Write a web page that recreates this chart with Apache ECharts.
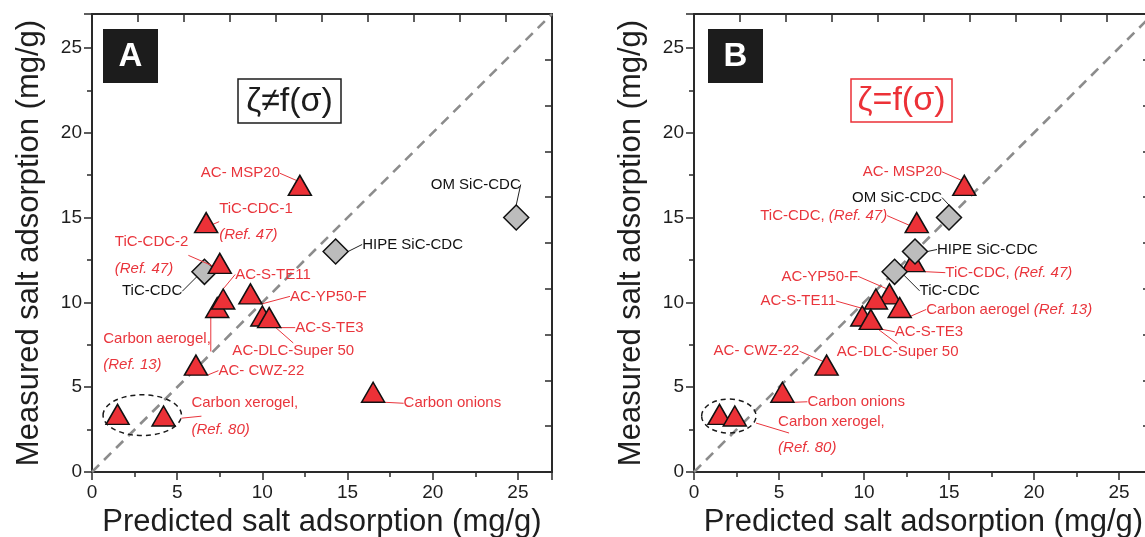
<!DOCTYPE html>
<html><head><meta charset="utf-8">
<script src="https://cdn.jsdelivr.net/npm/echarts@6/dist/echarts.min.js"></script>
<style>html,body{margin:0;padding:0;background:#fff;}#c{width:1145px;height:537px;}</style>
</head><body><div id="c"></div>
<script>
// ---------------- data ----------------
const axisMin = 0, axisMax = 27;
const xTickLabels = ['0', '5', '10', '15', '20', '25'];
const yTickLabels = ['0', '5', '10', '15', '20', '25'];
const parityLine = [[0, 0], [27, 27]];

// Panel A : zeta != f(sigma)
const aTriNames = ['AC- MSP20', 'TiC-CDC-1', 'TiC-CDC-2', 'Carbon aerogel', 'AC-S-TE11', 'AC-YP50-F',
  'AC-DLC-Super 50', 'AC-S-TE3', 'AC- CWZ-22', 'Carbon xerogel 1', 'Carbon xerogel 2', 'Carbon onions'];
const aTriX = [12.2, 6.7, 7.5, 7.35, 7.7, 9.3, 10.0, 10.4, 6.1, 1.5, 4.2, 16.5];
const aTriY = [16.9, 14.7, 12.3, 9.7, 10.2, 10.5, 9.2, 9.1, 6.3, 3.4, 3.3, 4.7];
const aDiaNames = ['TiC-CDC', 'HIPE SiC-CDC', 'OM SiC-CDC'];
const aDiaX = [6.6, 14.3, 24.9];
const aDiaY = [11.8, 13.0, 15.0];

// Panel B : zeta = f(sigma)
const bTriNames = ['AC- MSP20', 'TiC-CDC (Ref. 47) a', 'TiC-CDC (Ref. 47) b', 'AC-YP50-F', 'AC-S-TE11',
  'Carbon aerogel', 'AC-DLC-Super 50', 'AC-S-TE3', 'AC- CWZ-22', 'Carbon onions', 'Carbon xerogel 1', 'Carbon xerogel 2'];
const bTriX = [15.9, 13.1, 12.9, 11.5, 10.7, 12.1, 9.9, 10.4, 7.8, 5.2, 1.5, 2.4];
const bTriY = [16.9, 14.7, 12.4, 10.5, 10.2, 9.7, 9.2, 9.0, 6.3, 4.7, 3.4, 3.3];
const bDiaNames = ['OM SiC-CDC', 'HIPE SiC-CDC', 'TiC-CDC'];
const bDiaX = [15.0, 13.0, 11.8];
const bDiaY = [15.0, 13.0, 11.8];

// label texts (rich: n = normal, i = italic)
const aTriLabels = ['{n|AC- MSP20}', '{n|TiC-CDC-1}\n{i|(Ref. 47)}', '{n|TiC-CDC-2}\n{i|(Ref. 47)}',
  '{n|Carbon aerogel,}\n{i|(Ref. 13)}', '{n|AC-S-TE11}', '{n|AC-YP50-F}', '{n|AC-DLC-Super 50}', '{n|AC-S-TE3}',
  '{n|AC- CWZ-22}', '', '', '{n|Carbon onions}'];
const aDiaLabels = ['TiC-CDC', 'HIPE SiC-CDC', 'OM SiC-CDC'];
const bTriLabels = ['{n|AC- MSP20}', '{n|TiC-CDC, }{i|(Ref. 47)}', '{n|TiC-CDC, }{i|(Ref. 47)}', '{n|AC-YP50-F}',
  '{n|AC-S-TE11}', '{n|Carbon aerogel }{i|(Ref. 13)}', '{n|AC-DLC-Super 50}', '{n|AC-S-TE3}', '{n|AC- CWZ-22}',
  '{n|Carbon onions}', '', ''];
const bDiaLabels = ['OM SiC-CDC', 'HIPE SiC-CDC', 'TiC-CDC'];

// dashed grouping around the carbon xerogel points: [centre x, centre y, radius x, radius y] in data units
const aXerogelGroup = [[2.95, 3.35, 2.3, 1.2]];
const bXerogelGroup = [[2.05, 3.3, 1.6, 1.0]];
const xerogelLabel = ['Carbon xerogel,', '(Ref. 80)'];

// ---------------- layout / style (pixel offsets of labels relative to their marker) ----------------
const aTriOff = [[-99, -12], [13, -1], [-105, -8], [-114, 44], [12, -24.5], [39.5, 2.5], [-30, 34.5], [26, 10], [22.5, 5.5], null, null, [30.5, 11]];
const aDiaOff = [[-82.5, 19.5], [26.5, -7], [-85.5, -33]];
const bTriOff = [[-101.5, -13.5], [-156.5, -7], [32, 11], [-108, -17.5], [-115.5, 2], [26.5, 2], [-25.5, 35.5], [24, 12.5], [-113, -14], [25, 9.5], null, null];
const bDiaOff = [[-97, -20], [22, -2], [25, 19]];

const FONT = '"Liberation Sans", Arial, Helvetica, sans-serif';
const RED = '#ec3137';
const RED_TXT = '#e9353c';
const GRAY = '#bcbcbc';
const AX = '#2a2a2a';

const grids = [
  { left: 92, top: 14, width: 460, height: 458, outerBoundsMode: 'none', containLabel: false },
  { left: 694, top: 14, width: 459, height: 458, outerBoundsMode: 'none', containLabel: false }
];

function tickFmt(labels) {
  return v => (Math.abs(v % 5) < 1e-6 ? (labels[Math.round(v / 5)] ?? '') : '');
}

function mainX(gi) {
  return {
    gridIndex: gi, type: 'value', min: axisMin, max: axisMax, interval: 5, position: 'bottom',
    axisLine: { onZero: false, lineStyle: { color: AX, width: 2 } },
    axisTick: { length: 8, lineStyle: { color: AX, width: 1.5 } },
    minorTick: { show: true, splitNumber: 2, length: 5, lineStyle: { color: AX, width: 1.5 } },
    splitLine: { show: false }, minorSplitLine: { show: false },
    axisLabel: { fontSize: 19, color: '#1e1e1e', fontFamily: FONT, margin: 11, showMaxLabel: false,
      formatter: tickFmt(xTickLabels) },
    name: 'Predicted salt adsorption (mg/g)', nameLocation: 'middle', nameGap: 30,
    nameTextStyle: { fontSize: 31, color: '#1e1e1e', fontFamily: FONT }
  };
}
function mainY(gi) {
  return {
    gridIndex: gi, type: 'value', min: axisMin, max: axisMax, interval: 5, position: 'left',
    axisLine: { show: true, onZero: false, lineStyle: { color: AX, width: 2 } },
    axisTick: { show: true, length: 8, lineStyle: { color: AX, width: 1.5 } },
    minorTick: { show: true, splitNumber: 2, length: 5, lineStyle: { color: AX, width: 1.5 } },
    splitLine: { show: false }, minorSplitLine: { show: false },
    axisLabel: { fontSize: 19, color: '#1e1e1e', fontFamily: FONT, margin: 10, showMaxLabel: false,
      formatter: tickFmt(yTickLabels) },
    name: 'Measured salt adsorption (mg/g)', nameLocation: 'middle', nameGap: 47,
    nameTextStyle: { fontSize: 31, color: '#1e1e1e', fontFamily: FONT }
  };
}
function frameAxis(gi, pos, len) {
  return {
    gridIndex: gi, type: 'value', min: axisMin, max: axisMax, interval: 2.7, position: pos,
    axisLine: { show: true, onZero: false, lineStyle: { color: AX, width: 2 } },
    axisTick: { show: true, inside: true, length: len, lineStyle: { color: AX, width: 1.5 } },
    axisLabel: { show: false }, splitLine: { show: false }
  };
}

function scatterSeries(gi, names, xs, ys, labels, offs, kind, z) {
  const isTri = kind === 'tri';
  const data = names.map((n, i) => ({
    name: n, value: [xs[i], ys[i]],
    label: { show: !!labels[i] }
  }));
  return {
    type: 'scatter', xAxisIndex: gi * 2, yAxisIndex: gi * 2, z: z,
    symbol: isTri ? 'triangle' : 'diamond',
    symbolSize: isTri ? [23, 20] : [25, 25],
    itemStyle: { color: isTri ? RED : GRAY, borderColor: '#111', borderWidth: 1.5, opacity: 1 },
    data: data,
    label: {
      show: true, position: 'inside', fontFamily: FONT, fontSize: 15,
      color: isTri ? RED_TXT : '#111', align: 'left', verticalAlign: 'middle',
      formatter: p => labels[p.dataIndex],
      rich: {
        n: { fontFamily: FONT, fontSize: 15, color: RED_TXT, lineHeight: 26 },
        i: { fontFamily: FONT, fontSize: 15, color: RED_TXT, fontStyle: 'italic', lineHeight: 26 }
      }
    },
    labelLine: { show: true, lineStyle: { color: isTri ? RED_TXT : '#222', width: 1 } },
    labelLayout: function (p) {
      const o = offs[p.dataIndex];
      if (!o) return {};
      return { x: p.rect.x + p.rect.width / 2 + o[0], y: p.rect.y + p.rect.height / 2 + o[1], align: 'left', verticalAlign: 'middle' };
    },
    emphasis: { disabled: true },
    animation: false
  };
}

function parity(gi) {
  return {
    type: 'line', xAxisIndex: gi * 2, yAxisIndex: gi * 2, data: parityLine, symbol: 'none', silent: true, z: 1,
    lineStyle: { color: '#8c8c8c', width: 2.6, type: [10, 7] }, animation: false
  };
}

function groupSeries(gi, group, lineOff, textOff) {
  return {
    type: 'custom', xAxisIndex: gi * 2, yAxisIndex: gi * 2, data: group, z: 3, silent: true, animation: false,
    renderItem: function (params, api) {
      const c = api.coord([api.value(0), api.value(1)]);
      const s = api.size([api.value(2), api.value(3)]);
      const ex = c[0] + s[0];
      return {
        type: 'group', children: [
          { type: 'ellipse', shape: { cx: c[0], cy: c[1], rx: s[0], ry: s[1] },
            style: { fill: 'none', stroke: '#1a1a1a', lineWidth: 1.5, lineDash: [5, 4] } },
          { type: 'line', shape: { x1: ex, y1: c[1] + lineOff[0], x2: ex + lineOff[1], y2: c[1] + lineOff[2] },
            style: { stroke: RED_TXT, lineWidth: 1 } },
          { type: 'text', x: ex + textOff[0], y: c[1] + textOff[1],
            style: { text: xerogelLabel[0], fill: RED_TXT, font: '15px ' + FONT, textAlign: 'left', textVerticalAlign: 'middle' } },
          { type: 'text', x: ex + textOff[0], y: c[1] + textOff[2],
            style: { text: xerogelLabel[1], fill: RED_TXT, font: 'italic 15px ' + FONT, textAlign: 'left', textVerticalAlign: 'middle' } }
        ]
      };
    }
  };
}

const chart = echarts.init(document.getElementById('c'), null, { renderer: 'canvas' });
chart.setOption({
  backgroundColor: '#fff',
  animation: false,
  grid: grids,
  xAxis: [mainX(0), frameAxis(0, 'top', 8), mainX(1), frameAxis(1, 'top', 8)],
  yAxis: [mainY(0), frameAxis(0, 'right', 7), mainY(1), frameAxis(1, 'right', 10)],
  series: [
    parity(0),
    groupSeries(0, aXerogelGroup, [3, 20, 1], [10, -12.5, 14.5]),
    scatterSeries(0, aDiaNames, aDiaX, aDiaY, aDiaLabels, aDiaOff, 'dia', 4),
    scatterSeries(0, aTriNames, aTriX, aTriY, aTriLabels, aTriOff, 'tri', 5),
    parity(1),
    groupSeries(1, bXerogelGroup, [7, 33, 17], [22, 6, 32]),
    scatterSeries(1, bTriNames, bTriX, bTriY, bTriLabels, bTriOff, 'tri', 4),
    scatterSeries(1, bDiaNames, bDiaX, bDiaY, bDiaLabels, bDiaOff, 'dia', 5)
  ],
  graphic: [
    { type: 'rect', shape: { x: 103, y: 29, width: 55, height: 54 }, style: { fill: '#1c1c1c' }, z: 10 },
    { type: 'text', x: 130.5, y: 57, z: 11, style: { text: 'A', fill: '#fff', font: 'bold 33px ' + FONT, textAlign: 'center', textVerticalAlign: 'middle' } },
    { type: 'rect', shape: { x: 238, y: 79, width: 103, height: 44 }, style: { fill: 'none', stroke: '#1c1c1c', lineWidth: 1.5 }, z: 10 },
    { type: 'text', x: 289.5, y: 102, z: 11, style: { text: 'ζ≠f(σ)', fill: '#1c1c1c', font: '34px ' + FONT, textAlign: 'center', textVerticalAlign: 'middle' } },
    { type: 'rect', shape: { x: 708, y: 29, width: 55, height: 54 }, style: { fill: '#1c1c1c' }, z: 10 },
    { type: 'text', x: 735.5, y: 57, z: 11, style: { text: 'B', fill: '#fff', font: 'bold 33px ' + FONT, textAlign: 'center', textVerticalAlign: 'middle' } },
    { type: 'rect', shape: { x: 851, y: 79, width: 101, height: 43 }, style: { fill: 'none', stroke: RED, lineWidth: 1.5 }, z: 10 },
    { type: 'text', x: 901.5, y: 101, z: 11, style: { text: 'ζ=f(σ)', fill: RED, font: '34px ' + FONT, textAlign: 'center', textVerticalAlign: 'middle' } }
  ]
});
</script></body></html>
